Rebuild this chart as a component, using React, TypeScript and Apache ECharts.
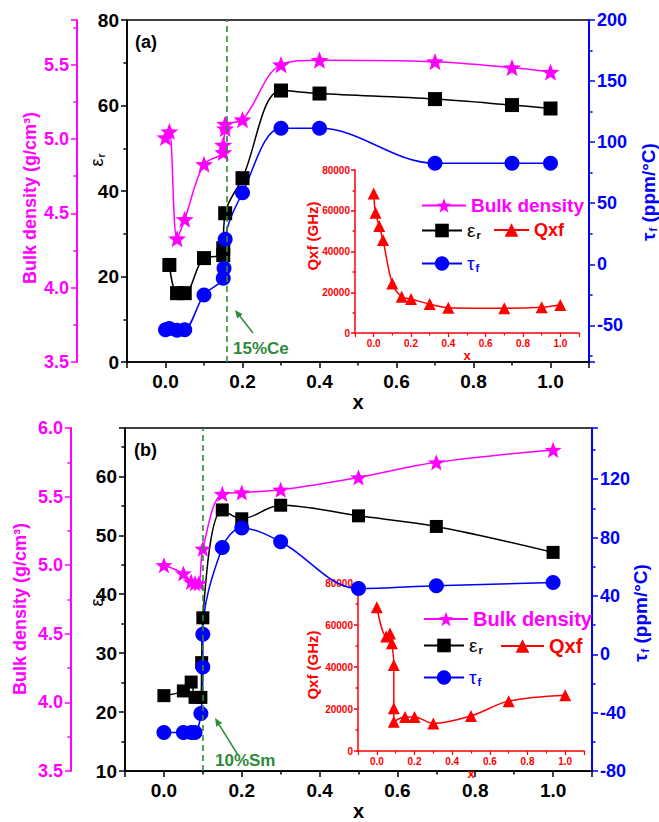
import React, { useEffect, useRef } from 'react';
import * as echarts from 'echarts';

const FONT = '"Liberation Sans", Arial, Helvetica, sans-serif';
const MAGENTA = '#FF00FF';
const BLUE = '#0000FF';
const RED = '#FF0000';
const GREEN = '#2E8B3A';
const BLACK = '#000000';

// ---------- Panel (a): Ce ----------
const A_RHO_X = [0, 0.01, 0.03, 0.05, 0.1, 0.15, 0.15, 0.155, 0.155, 0.2, 0.3, 0.4, 0.7, 0.9, 1.0];
const A_RHO = [5.01, 5.05, 4.33, 4.46, 4.83, 4.91, 4.96, 5.07, 5.1, 5.13, 5.5, 5.53, 5.52, 5.48, 5.45];
const A_EPS_X = [0.01, 0.03, 0.05, 0.1, 0.15, 0.15, 0.155, 0.2, 0.3, 0.4, 0.7, 0.9, 1.0];
const A_EPS = [22.7, 16.1, 16.1, 24.3, 25.0, 26.6, 34.8, 43.0, 63.5, 62.8, 61.5, 60.1, 59.3];
const A_TAU_X = [0, 0.01, 0.03, 0.05, 0.1, 0.15, 0.152, 0.155, 0.2, 0.3, 0.4, 0.7, 0.9, 1.0];
const A_TAU = [-53.5, -52.5, -54.0, -53.5, -25.1, -11.5, -3.3, 20.5, 58.5, 111.3, 111.3, 82.7, 82.7, 82.7];
const A_Q_X = [0, 0.01, 0.03, 0.05, 0.1, 0.15, 0.2, 0.3, 0.4, 0.7, 0.9, 1.0];
const A_Q = [68500, 59000, 52500, 45600, 24300, 17800, 16700, 14200, 12400, 12100, 12600, 13700];
const A_MARK_X = 0.158;

// ---------- Panel (b): Sm ----------
const B_RHO_X = [0, 0.05, 0.07, 0.08, 0.09, 0.1, 0.15, 0.2, 0.3, 0.5, 0.7, 1.0];
const B_RHO = [5.0, 4.94, 4.88, 4.87, 4.87, 5.12, 5.52, 5.53, 5.55, 5.64, 5.75, 5.84];
const B_EPS_X = [0, 0.05, 0.07, 0.08, 0.095, 0.097, 0.1, 0.15, 0.2, 0.3, 0.5, 0.7, 1.0];
const B_EPS = [22.8, 23.6, 25.1, 22.5, 22.5, 28.4, 36.0, 54.3, 52.8, 55.1, 53.3, 51.5, 47.1];
const B_TAU_X = [0, 0.05, 0.07, 0.08, 0.095, 0.1, 0.1, 0.15, 0.2, 0.3, 0.5, 0.7, 1.0];
const B_TAU = [-53.6, -53.6, -53.6, -53.6, -40.5, -8.7, 13.7, 73.1, 86.5, 77.1, 45.0, 46.9, 49.1];
const B_Q_X = [0, 0.05, 0.07, 0.08, 0.09, 0.09, 0.09, 0.15, 0.2, 0.3, 0.5, 0.7, 1.0];
const B_Q = [68500, 54500, 56000, 51300, 41000, 20300, 13900, 16250, 16250, 13100, 16700, 23750, 26600];
const B_MARK_X = 0.105;

const STAR =
  'path://M0,-10 L2.45,-3.37 L9.51,-3.09 L3.96,1.29 L5.88,8.09 L0,4.17 L-5.88,8.09 L-3.96,1.29 L-9.51,-3.09 L-2.45,-3.37 Z';

const zip = (xs: number[], ys: number[]) => xs.map((x, i) => [x, ys[i]]);
const stepLabel = (step: number, digits: number) => (v: number) =>
  Math.abs(v / step - Math.round(v / step)) < 1e-6 ? v.toFixed(digits) : '';

function mainX(gridIndex: number, nameGap: number) {
  return {
    gridIndex,
    type: 'value',
    min: -0.1,
    max: 1.1,
    splitNumber: 6,
    axisLine: { show: true, onZero: false, lineStyle: { color: BLACK, width: 1.6 } },
    axisTick: { show: true, length: 6, lineStyle: { color: BLACK, width: 1.5 } },
    minorTick: { show: true, splitNumber: 2, length: 3.5, lineStyle: { color: BLACK, width: 1.5 } },
    splitLine: { show: false },
    axisLabel: {
      formatter: stepLabel(0.2, 1),
      fontSize: 19,
      fontWeight: 'bold',
      color: BLACK,
      fontFamily: FONT,
      margin: 10,
    },
    name: 'x',
    nameLocation: 'middle',
    nameGap,
    nameTextStyle: { fontSize: 20, fontWeight: 'bold', color: BLACK, fontFamily: FONT },
  };
}

function yAx(o: any) {
  return {
    gridIndex: o.grid,
    type: 'value',
    position: o.position,
    offset: o.offset || 0,
    min: o.min,
    max: o.max,
    interval: o.interval,
    splitNumber: o.splitNumber,
    axisLine: { show: true, onZero: false, lineStyle: { color: o.color, width: o.width || 1.6 } },
    axisTick: { show: true, length: o.tick || 6, lineStyle: { color: o.color, width: 1.5 } },
    minorTick: {
      show: true,
      splitNumber: 2,
      length: (o.tick || 6) * 0.6,
      lineStyle: { color: o.color, width: 1.5 },
    },
    splitLine: { show: false },
    axisLabel: {
      formatter: stepLabel(o.step, o.digits),
      fontSize: o.fontSize,
      fontWeight: 'bold',
      color: o.color,
      fontFamily: FONT,
      margin: o.margin || 8,
    },
  };
}

function insetX(gridIndex: number) {
  return {
    gridIndex,
    type: 'value',
    min: -0.1,
    max: 1.1,
    splitNumber: 6,
    axisLine: { show: true, onZero: false, lineStyle: { color: RED, width: 1.5 } },
    axisTick: { show: true, length: 4, lineStyle: { color: RED, width: 1.2 } },
    minorTick: { show: true, splitNumber: 2, length: 2.5, lineStyle: { color: RED, width: 1.2 } },
    splitLine: { show: false },
    axisLabel: {
      formatter: stepLabel(0.2, 1),
      fontSize: 10,
      fontWeight: 'bold',
      color: RED,
      fontFamily: FONT,
      margin: 5,
    },
    name: 'x',
    nameLocation: 'middle',
    nameGap: 11,
    nameTextStyle: { fontSize: 13, fontWeight: 'bold', color: RED, fontFamily: FONT },
  };
}

function lineSeries(o: any) {
  return {
    type: 'line',
    name: o.name,
    xAxisIndex: o.x,
    yAxisIndex: o.y,
    data: o.data,
    smooth: 0.35,
    symbol: o.symbol,
    symbolSize: o.size,
    symbolKeepAspect: true,
    showSymbol: true,
    legendHoverLink: false,
    lineStyle: { color: o.color, width: 1.5 },
    itemStyle: { color: o.color, borderWidth: 0 },
    emphasis: { disabled: true },
    z: o.z || 3,
    markLine: o.markLine,
  };
}

function vText(x: number, y: number, text: string, fontSize: number, color: string, weight: string, rich?: any) {
  return {
    type: 'text',
    x,
    y,
    rotation: Math.PI / 2,
    silent: true,
    style: {
      text,
      fontSize,
      fontWeight: weight,
      fontFamily: FONT,
      fill: color,
      align: 'center',
      verticalAlign: 'middle',
      textAlign: 'center',
      textVerticalAlign: 'middle',
      rich,
    },
  };
}

function hText(x: number, y: number, text: string, fontSize: number, color: string) {
  return {
    type: 'text',
    x,
    y,
    silent: true,
    style: {
      text,
      fontSize,
      fontWeight: 'bold',
      fontFamily: FONT,
      fill: color,
      align: 'left',
      verticalAlign: 'middle',
      textAlign: 'left',
      textVerticalAlign: 'middle',
    },
  };
}

function arrow(x1: number, y1: number, x2: number, y2: number, color: string) {
  const ang = Math.atan2(y2 - y1, x2 - x1);
  const L = 8;
  const W = 3.5;
  const bx = x2 - L * Math.cos(ang);
  const by = y2 - L * Math.sin(ang);
  const px = -Math.sin(ang) * W;
  const py = Math.cos(ang) * W;
  return [
    { type: 'line', silent: true, shape: { x1, y1, x2: bx, y2: by }, style: { stroke: color, lineWidth: 1.5 } },
    {
      type: 'polygon',
      silent: true,
      shape: { points: [[x2, y2], [bx + px, by + py], [bx - px, by - py]] },
      style: { fill: color },
    },
  ];
}

function markLine(xv: number) {
  return {
    silent: true,
    symbol: ['none', 'none'],
    label: { show: false },
    lineStyle: { color: GREEN, type: [6, 4], width: 1.6 },
    data: [{ xAxis: xv }],
  };
}

const subRich = (color: string, size: number, subSize: number, weight: string) => ({
  m: { fontSize: size, color, fill: color, fontFamily: FONT, fontWeight: weight },
  s: { fontSize: subSize, color, fill: color, fontFamily: FONT, fontWeight: 'bold', padding: [Math.round(size * 0.45), 0, 0, 1] },
});

function legendItem(o: any) {
  return {
    data: [o.name],
    left: o.left,
    top: o.top,
    orient: 'horizontal',
    itemWidth: o.itemWidth,
    itemHeight: o.itemHeight,
    padding: 0,
    itemGap: 0,
    selectedMode: false,
    formatter: () => o.label,
    textStyle: {
      color: o.color,
      fontSize: o.fontSize,
      fontWeight: o.weight,
      fontFamily: FONT,
      rich: o.rich,
    },
  };
}

function buildOption() {
  const NA = {
    rho: 'Bulk density (a)',
    eps: 'εr (a)',
    tau: 'τf (a)',
    q: 'Qxf (a)',
  };
  const NB = {
    rho: 'Bulk density (b)',
    eps: 'εr (b)',
    tau: 'τf (b)',
    q: 'Qxf (b)',
  };

  return {
    animation: false,
    backgroundColor: '#ffffff',
    textStyle: { fontFamily: FONT },
    grid: [
      { left: 127, top: 20, width: 462, height: 342, show: true, borderColor: BLACK, borderWidth: 1.6, backgroundColor: 'transparent' },
      { left: 355, top: 170, width: 224, height: 163 },
      { left: 125, top: 428, width: 467, height: 349, show: true, borderColor: BLACK, borderWidth: 1.6, backgroundColor: 'transparent' },
      { left: 358, top: 583, width: 226, height: 168 },
    ],
    xAxis: [mainX(0, 22), insetX(1), mainX(2, 24), insetX(3)],
    yAxis: [
      yAx({ grid: 0, position: 'left', min: 0, max: 80, interval: 20, color: BLACK, step: 20, digits: 0, fontSize: 19 }),
      yAx({ grid: 0, position: 'left', offset: 50, min: 3.5, max: 5.8, interval: 0.5, color: MAGENTA, step: 0.5, digits: 1, fontSize: 18, width: 2 }),
      yAx({ grid: 0, position: 'right', min: -80, max: 200, splitNumber: 6, color: BLUE, step: 50, digits: 0, fontSize: 18, width: 2 }),
      yAx({ grid: 1, position: 'left', min: 0, max: 80000, interval: 20000, color: RED, step: 20000, digits: 0, fontSize: 10, tick: 4, margin: 5, width: 1.5 }),
      yAx({ grid: 2, position: 'left', min: 10, max: 68.2, interval: 10, color: BLACK, step: 10, digits: 0, fontSize: 19 }),
      yAx({ grid: 2, position: 'left', offset: 54, min: 3.5, max: 6.0, interval: 0.5, color: MAGENTA, step: 0.5, digits: 1, fontSize: 18, width: 2 }),
      yAx({ grid: 2, position: 'right', min: -80, max: 155, interval: 40, color: BLUE, step: 40, digits: 0, fontSize: 18, width: 2 }),
      yAx({ grid: 3, position: 'left', min: 0, max: 80000, interval: 20000, color: RED, step: 20000, digits: 0, fontSize: 10, tick: 4, margin: 5, width: 1.5 }),
    ],
    legend: [
      legendItem({ name: NA.rho, left: 421, top: 196, itemWidth: 44, itemHeight: 18, label: 'Bulk density', color: MAGENTA, fontSize: 19, weight: 'bold' }),
      legendItem({ name: NA.eps, left: 421, top: 221, itemWidth: 40, itemHeight: 17, label: '{m|ε}{s|r}', color: BLACK, fontSize: 19, weight: 'normal', rich: subRich(BLACK, 19, 11, 'normal') }),
      legendItem({ name: NA.q, left: 493, top: 221, itemWidth: 35, itemHeight: 17, label: 'Qxf', color: RED, fontSize: 18, weight: 'bold' }),
      legendItem({ name: NA.tau, left: 421, top: 254, itemWidth: 40, itemHeight: 18, label: '{m|τ}{s|f}', color: BLUE, fontSize: 19, weight: 'normal', rich: subRich(BLUE, 19, 11, 'normal') }),
      legendItem({ name: NB.rho, left: 423, top: 609, itemWidth: 44, itemHeight: 18, label: 'Bulk density', color: MAGENTA, fontSize: 20, weight: 'bold' }),
      legendItem({ name: NB.eps, left: 423, top: 636, itemWidth: 40, itemHeight: 17, label: '{m|ε}{s|r}', color: BLACK, fontSize: 19, weight: 'normal', rich: subRich(BLACK, 19, 11, 'normal') }),
      legendItem({ name: NB.q, left: 500, top: 636, itemWidth: 43, itemHeight: 17, label: 'Qxf', color: RED, fontSize: 20, weight: 'bold' }),
      legendItem({ name: NB.tau, left: 423, top: 668, itemWidth: 40, itemHeight: 18, label: '{m|τ}{s|f}', color: BLUE, fontSize: 19, weight: 'normal', rich: subRich(BLUE, 19, 11, 'normal') }),
    ],
    series: [
      // panel (a)
      lineSeries({ name: NA.eps, x: 0, y: 0, data: zip(A_EPS_X, A_EPS), symbol: 'rect', size: 14, color: BLACK, markLine: markLine(A_MARK_X) }),
      lineSeries({ name: NA.tau, x: 0, y: 2, data: zip(A_TAU_X, A_TAU), symbol: 'circle', size: 15, color: BLUE }),
      lineSeries({ name: NA.rho, x: 0, y: 1, data: zip(A_RHO_X, A_RHO), symbol: STAR, size: 18, color: MAGENTA }),
      lineSeries({ name: NA.q, x: 1, y: 3, data: zip(A_Q_X, A_Q), symbol: 'triangle', size: 12, color: RED }),
      // panel (b)
      lineSeries({ name: NB.eps, x: 2, y: 4, data: zip(B_EPS_X, B_EPS), symbol: 'rect', size: 13, color: BLACK, markLine: markLine(B_MARK_X) }),
      lineSeries({ name: NB.tau, x: 2, y: 6, data: zip(B_TAU_X, B_TAU), symbol: 'circle', size: 15, color: BLUE }),
      lineSeries({ name: NB.rho, x: 2, y: 5, data: zip(B_RHO_X, B_RHO), symbol: STAR, size: 17, color: MAGENTA }),
      lineSeries({ name: NB.q, x: 3, y: 7, data: zip(B_Q_X, B_Q), symbol: 'triangle', size: 12, color: RED }),
    ],
    graphic: [
      // rotated axis titles
      vText(30, 198, 'Bulk density (g/cm³)', 18, MAGENTA, 'bold'),
      vText(97, 160, '{m|ε}{s|r}', 18, BLACK, 'normal', subRich(BLACK, 18, 10, 'normal')),
      vText(648, 192, '{m|τ}{s|f}{m| (ppm/°C)}', 19, BLUE, 'bold', subRich(BLUE, 19, 11, 'bold')),
      vText(312, 236, 'Qxf (GHz)', 15, RED, 'bold'),
      vText(20, 609, 'Bulk density (g/cm³)', 18, MAGENTA, 'bold'),
      vText(97, 600, '{m|ε}{s|r}', 18, BLACK, 'normal', subRich(BLACK, 18, 10, 'normal')),
      vText(640, 613, '{m|τ}{s|f}{m| (ppm/°C)}', 19, BLUE, 'bold', subRich(BLUE, 19, 11, 'bold')),
      vText(312, 665, 'Qxf (GHz)', 15, RED, 'bold'),
      // panel tags and annotations
      hText(135, 42, '(a)', 18, BLACK),
      hText(134, 450, '(b)', 18, BLACK),
      hText(233, 348, '15%Ce', 17, GREEN),
      hText(215, 760, '10%Sm', 17, GREEN),
      ...arrow(253, 333, 235, 310, GREEN),
      ...arrow(238, 755, 215, 718, GREEN),
    ],
  };
}

export default function App() {
  const ref = useRef<HTMLDivElement>(null);
  useEffect(() => {
    if (!ref.current) return;
    const chart = echarts.init(ref.current, null, { renderer: 'svg' });
    chart.setOption(buildOption() as any);
    return () => chart.dispose();
  }, []);
  return (
    <div
      ref={ref}
      style={{ position: 'fixed', left: 0, top: 0, width: 659, height: 822, background: '#ffffff' }}
    />
  );
}
